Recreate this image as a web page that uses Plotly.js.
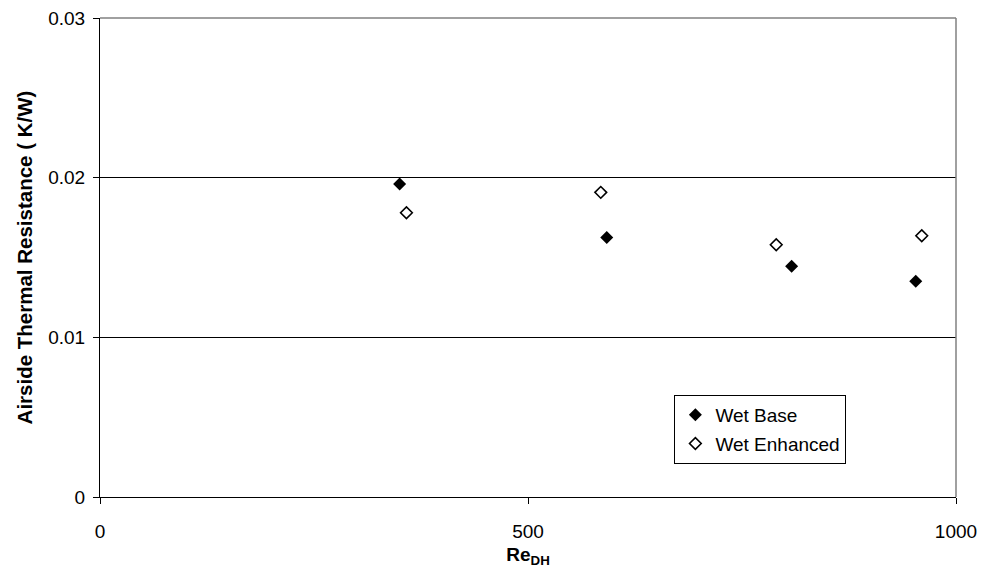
<!DOCTYPE html>
<html>
<head>
<meta charset="utf-8">
<script src="https://cdn.plot.ly/plotly-3.0.1.min.js"></script>
<style>html,body{margin:0;padding:0;background:#fff;}#chart{width:981px;height:571px;}</style>
</head>
<body>
<div id="chart"></div>
<script>
// Data
const seriesNames = ["Wet Base", "Wet Enhanced"];
const wetBaseRe = [350, 592, 808, 953];
const wetBaseR = [0.0196, 0.01625, 0.01445, 0.01352];
const wetEnhRe = [358, 585, 790, 960];
const wetEnhR = [0.0178, 0.01908, 0.0158, 0.01636];
const xTicks = [0, 500, 1000];
const yTicks = [0, 0.01, 0.02, 0.03];
const yTickText = ["0", "0.01", "0.02", "0.03"];

const font = "Arial, 'Liberation Sans', sans-serif";

const traces = [
  {
    x: wetBaseRe, y: wetBaseR, name: seriesNames[0], type: "scatter", mode: "markers",
    legendgroup: "a",
    marker: {symbol: "diamond", size: 10, color: "#000", line: {width: 0}}
  },
  {
    x: wetEnhRe, y: wetEnhR, name: seriesNames[1], type: "scatter", mode: "markers",
    legendgroup: "b",
    marker: {symbol: "diamond-open", size: 9, color: "#000", line: {width: 1.6, color: "#000"}}
  }
];

const layout = {
  width: 981, height: 571,
  margin: {l: 100, r: 25, t: 18, b: 74},
  paper_bgcolor: "#fff", plot_bgcolor: "#fff",
  font: {family: font, size: 19, color: "#000"},
  showlegend: true,
  legend: {
    x: 0.671, y: 0.213, xanchor: "left", yanchor: "top",
    bordercolor: "#000", borderwidth: 1, bgcolor: "#fff",
    font: {family: font, size: 19, color: "#000"},
    traceorder: "grouped", tracegroupgap: 1
  },
  xaxis: {
    range: [0, 1000], tickvals: xTicks, ticktext: xTicks.map(String),
    showgrid: false, zeroline: false,
    showline: true, linecolor: "#000", linewidth: 1,
    ticks: "outside", ticklen: 6, tickcolor: "#000",
    ticklabelstandoff: 11,
    tickfont: {family: font, size: 19},
    title: {text: "<b>Re<sub>DH</sub></b>", font: {family: font, size: 19}, standoff: 6}
  },
  yaxis: {
    range: [0, 0.03], tickvals: yTicks, ticktext: yTickText,
    showgrid: true, gridcolor: "#000", gridwidth: 1, zeroline: false,
    showline: true, linecolor: "#000", linewidth: 1,
    ticks: "outside", ticklen: 6, tickcolor: "#000",
    ticklabelstandoff: 4,
    tickfont: {family: font, size: 19},
    title: {text: "<b>Airside Thermal Resistance ( K/W)</b>", font: {family: font, size: 20.5}, standoff: 10}
  },
  shapes: [
    {type: "line", xref: "paper", yref: "paper", x0: 0, x1: 1, y0: 1, y1: 1, line: {color: "#808080", width: 1.5}},
    {type: "line", xref: "paper", yref: "paper", x0: 1, x1: 1, y0: 0, y1: 1, line: {color: "#808080", width: 1.5}}
  ]
};

Plotly.newPlot("chart", traces, layout, {displayModeBar: false, staticPlot: true});
</script>
</body>
</html>
